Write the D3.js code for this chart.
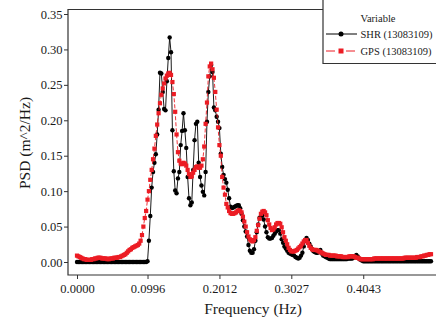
<!DOCTYPE html>
<html>
<head>
<meta charset="utf-8">
<script src="https://cdn.jsdelivr.net/npm/d3@7"></script>
<style>
    body { margin: 0; background: #fff; }
    #psd-svg { display: block; font-family: "Liberation Serif", "Times New Roman", serif; }
    .axis text { font-family: "Liberation Serif", "Times New Roman", serif; font-size: 12.5px; fill: #1a1a1a; }
    .axis line { stroke: #333; stroke-width: 1; }
    .frame { stroke: #333; stroke-width: 1.2; fill: none; }
    .axis-label { font-size: 15.5px; fill: #1a1a1a; text-anchor: middle; }
    .legend-text { font-size: 10.5px; fill: #1a1a1a; }
</style>
</head>
<body>
<svg id="psd-svg" width="436" height="320"></svg>
<script>
const seriesNames = ["SHR (13083109)", "GPS (13083109)"];
const freqStep = 1 / 512; // Hz between spectral lines

// SHR spectrum
const shrPsd = [
    0, 0, 0, 0, 0, 0, 0, 0, 0, 0,
    0, 0, 0, 0, 0, 0, 0, 0, 0, 0,
    0, 0, 0, 0, 0, 0, 0, 0, 0, 0,
    0, 0, 0, 0, 0, 0, 0, 0, 0, 0,
    0, 0, 0, 0, 0, 0, 0, 0, 0, 0,
    0, 0.001, 0.030, 0.065, 0.105, 0.127, 0.140, 0.152, 0.180, 0.215,
    0.267, 0.266, 0.240, 0.216, 0.214, 0.255, 0.288, 0.317, 0.296, 0.186,
    0.128, 0.101, 0.097, 0.118, 0.127, 0.165, 0.185, 0.210, 0.186, 0.161,
    0.120, 0.090, 0.080, 0.084, 0.130, 0.172, 0.195, 0.198, 0.140, 0.120,
    0.108, 0.099, 0.094, 0.127, 0.198, 0.240, 0.262, 0.278, 0.268, 0.218,
    0.214, 0.205, 0.198, 0.189, 0.153, 0.134, 0.123, 0.117, 0.112, 0.102,
    0.090, 0.078, 0.076, 0.077, 0.078, 0.079, 0.080, 0.080, 0.076, 0.068,
    0.059, 0.050, 0.043, 0.036, 0.024, 0.016, 0.013, 0.013, 0.018, 0.030,
    0.042, 0.053, 0.062, 0.065, 0.066, 0.060, 0.050, 0.042, 0.035, 0.033,
    0.033, 0.034, 0.037, 0.040, 0.043, 0.045, 0.045, 0.040, 0.032, 0.027,
    0.022, 0.019, 0.016, 0.013, 0.012, 0.011, 0.010, 0.009, 0.007, 0.006,
    0.005, 0.006, 0.009, 0.013, 0.022, 0.030, 0.034, 0.031, 0.026, 0.022,
    0.018, 0.015, 0.014, 0.013, 0.013, 0.015, 0.017, 0.012, 0.009, 0.008,
    0.007, 0.006, 0.005, 0.004, 0.004, 0.004, 0.004, 0.004, 0.004, 0.004,
    0.004, 0.004, 0.004, 0.004, 0.004, 0.004, 0.005, 0.005, 0.005, 0.005,
    0.006, 0.008, 0.010, 0.008, 0.005, 0.003, 0.002, 0.001, 0.001, 0.001,
    0.001, 0.001, 0.001, 0.001, 0.001, 0.001, 0.001, 0.001, 0.001, 0.001,
    0.001, 0.001, 0.001, 0.001, 0.001, 0.001, 0.001, 0.001, 0.001, 0.001,
    0.001, 0.001, 0.001, 0.001, 0.001, 0.001, 0.001, 0.001, 0.001, 0.001,
    0.001, 0.001, 0.001, 0.001, 0.001, 0.001, 0.001, 0.001, 0.001, 0.001,
    0.001, 0.001, 0.001, 0.001, 0.001, 0.001, 0.001
];

// GPS spectrum
const gpsPsd = [
    0.009, 0.008, 0.007, 0.006, 0.005, 0.004, 0.004, 0.003, 0.003, 0.003,
    0.003, 0.004, 0.004, 0.005, 0.005, 0.006, 0.006, 0.006, 0.005, 0.005,
    0.005, 0.005, 0.004, 0.004, 0.005, 0.005, 0.005, 0.006, 0.006, 0.006,
    0.007, 0.007, 0.008, 0.009, 0.010, 0.011, 0.013, 0.015, 0.017, 0.018,
    0.020, 0.021, 0.022, 0.023, 0.024, 0.026, 0.030, 0.038, 0.050, 0.062,
    0.072, 0.088, 0.100, 0.116, 0.130, 0.145, 0.160, 0.178, 0.194, 0.210,
    0.224, 0.236, 0.245, 0.252, 0.259, 0.263, 0.266, 0.267, 0.264, 0.254,
    0.237, 0.212, 0.180, 0.155, 0.143, 0.139, 0.138, 0.140, 0.139, 0.136,
    0.130, 0.124, 0.120, 0.121, 0.126, 0.130, 0.134, 0.135, 0.133, 0.133,
    0.136, 0.145, 0.163, 0.195, 0.225, 0.262, 0.276, 0.280, 0.272, 0.260,
    0.240, 0.215, 0.190, 0.165, 0.150, 0.120, 0.105, 0.095, 0.082, 0.077,
    0.072, 0.069, 0.068, 0.068, 0.069, 0.070, 0.072, 0.073, 0.072, 0.070,
    0.064, 0.057, 0.050, 0.042, 0.036, 0.032, 0.030, 0.029, 0.031, 0.035,
    0.044, 0.052, 0.061, 0.068, 0.071, 0.072, 0.070, 0.066, 0.059, 0.053,
    0.048, 0.045, 0.046, 0.049, 0.053, 0.055, 0.055, 0.054, 0.049, 0.042,
    0.035, 0.030, 0.025, 0.020, 0.017, 0.015, 0.015, 0.015, 0.016, 0.017,
    0.019, 0.021, 0.023, 0.026, 0.029, 0.031, 0.031, 0.027, 0.023, 0.020,
    0.018, 0.017, 0.017, 0.017, 0.016, 0.015, 0.014, 0.013, 0.012, 0.011,
    0.010, 0.010, 0.010, 0.009, 0.009, 0.009, 0.009, 0.009, 0.008, 0.008,
    0.008, 0.008, 0.007, 0.007, 0.007, 0.007, 0.007, 0.008, 0.008, 0.008,
    0.008, 0.007, 0.006, 0.006, 0.005, 0.004, 0.004, 0.004, 0.004, 0.004,
    0.004, 0.004, 0.004, 0.004, 0.004, 0.005, 0.005, 0.005, 0.005, 0.005,
    0.005, 0.005, 0.005, 0.005, 0.005, 0.005, 0.005, 0.005, 0.005, 0.005,
    0.005, 0.005, 0.005, 0.005, 0.005, 0.005, 0.005, 0.006, 0.006, 0.006,
    0.006, 0.006, 0.006, 0.006, 0.006, 0.006, 0.007, 0.007, 0.007, 0.008,
    0.008, 0.009, 0.009, 0.010, 0.010, 0.011, 0.011
];

const xTickLabels = ["0.0000", "0.0996", "0.2012", "0.3027", "0.4043"];
const yTicks = [0, 0.05, 0.10, 0.15, 0.20, 0.25, 0.30, 0.35];

class PsdChart {
    constructor() {
        this.svg = d3.select("#psd-svg");
        this.shr = shrPsd.map((v, i) => ({ freq: i * freqStep, psd: v }));
        this.gps = gpsPsd.map((v, i) => ({ freq: i * freqStep, psd: v }));

        // frame edges
        this.left = 68;
        this.top = 9.5;
        this.bottom = 275;
        this.legendLeft = 323;

        //scales:
        this.scaleX = d3.scaleLinear().domain([0, 0.5]).range([77, 431]);
        this.scaleY = d3.scaleLinear().domain([0, 0.35]).range([262, 14]);

        this.drawAxis();
        this.drawPlot();
        this.drawLegend();
    }

    drawAxis() {
        let svg = this.svg;
        let xAxis = d3.axisBottom(this.scaleX)
            .tickValues(xTickLabels.map(Number))
            .tickFormat(d3.format(".4f"))
            .tickSize(4)
            .tickPadding(5);
        svg.append("g")
            .attr("class", "axis")
            .attr("transform", `translate(0,${this.bottom})`)
            .call(xAxis)
            .call(g => g.select(".domain").remove());

        let yAxis = d3.axisLeft(this.scaleY)
            .tickValues(yTicks)
            .tickFormat(d3.format(".2f"))
            .tickSize(4)
            .tickPadding(1.5);
        svg.append("g")
            .attr("class", "axis")
            .attr("transform", `translate(${this.left},0)`)
            .call(yAxis)
            .call(g => g.select(".domain").remove());

        // open frame: left, top (up to legend) and bottom
        svg.append("path")
            .attr("class", "frame")
            .attr("d", `M${this.legendLeft},${this.top}H${this.left}V${this.bottom}H436`);

        svg.append("text")
            .attr("class", "axis-label")
            .attr("x", 253)
            .attr("y", 314)
            .text("Frequency (Hz)");
        svg.append("text")
            .attr("class", "axis-label")
            .attr("transform", "translate(30,143) rotate(-90)")
            .text("PSD (m^2/Hz)");
    }

    drawPlot() {
        let sx = this.scaleX, sy = this.scaleY;
        let line = d3.line().x(d => sx(d.freq)).y(d => sy(d.psd));

        this.svg.append("path")
            .datum(this.shr)
            .attr("fill", "none")
            .attr("stroke", "#000")
            .attr("stroke-width", 0.9)
            .attr("d", line);
        this.svg.append("g").selectAll("circle").data(this.shr)
            .join("circle")
            .attr("cx", d => sx(d.freq))
            .attr("cy", d => sy(d.psd))
            .attr("r", 2.2)
            .attr("fill", "#000");

        this.svg.append("path")
            .datum(this.gps)
            .attr("fill", "none")
            .attr("stroke", "#ec1c24")
            .attr("stroke-width", 0.9)
            .attr("stroke-dasharray", "4,2")
            .attr("d", line);
        this.svg.append("g").selectAll("rect").data(this.gps)
            .join("rect")
            .attr("x", d => sx(d.freq) - 2.1)
            .attr("y", d => sy(d.psd) - 2.1)
            .attr("width", 4.2)
            .attr("height", 4.2)
            .attr("fill", "#ec1c24");
    }

    drawLegend() {
        let g = this.svg.append("g").attr("class", "legend");
        g.append("path")
            .attr("class", "frame")
            .attr("d", `M${this.legendLeft},0V63.5H436`);
        g.append("text")
            .attr("class", "legend-text")
            .attr("x", 360.5)
            .attr("y", 22)
            .text("Variable");

        // SHR
        g.append("line")
            .attr("x1", 326).attr("x2", 357)
            .attr("y1", 34).attr("y2", 34)
            .attr("stroke", "#000").attr("stroke-width", 1);
        g.append("circle")
            .attr("cx", 341).attr("cy", 34).attr("r", 2.5)
            .attr("fill", "#000");
        g.append("text")
            .attr("class", "legend-text")
            .attr("x", 360.5)
            .attr("y", 37.5)
            .text(seriesNames[0]);

        // GPS
        g.append("line")
            .attr("x1", 326).attr("x2", 357)
            .attr("y1", 51).attr("y2", 51)
            .attr("stroke", "#ec1c24").attr("stroke-width", 1)
            .attr("stroke-dasharray", "9,4,3,4");
        g.append("rect")
            .attr("x", 338.5).attr("y", 48.5).attr("width", 5).attr("height", 5)
            .attr("fill", "#ec1c24");
        g.append("text")
            .attr("class", "legend-text")
            .attr("x", 360.5)
            .attr("y", 54.5)
            .text(seriesNames[1]);
    }
}

new PsdChart();
</script>
</body>
</html>
